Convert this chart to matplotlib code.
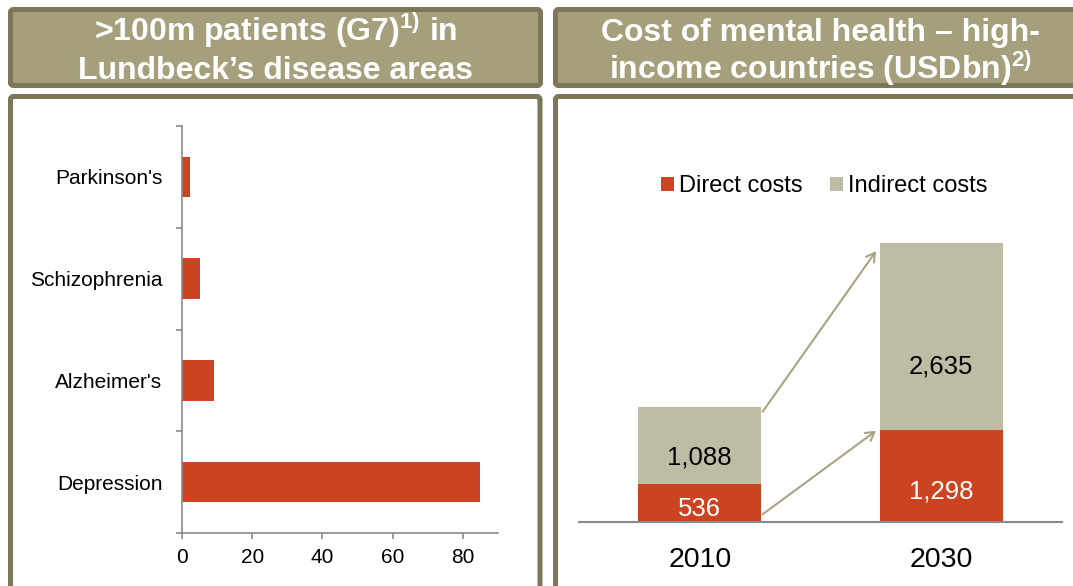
import matplotlib.pyplot as plt
from matplotlib.patches import FancyBboxPatch

plt.rcParams['font.family'] = ['Liberation Sans', 'DejaVu Sans']
plt.rcParams['mathtext.fontset'] = 'custom'
plt.rcParams['mathtext.rm'] = 'Liberation Sans'
plt.rcParams['mathtext.bf'] = 'Liberation Sans:bold'

# left panel: patients (millions, G7)
diseases = ['Depression', "Alzheimer's", 'Schizophrenia', "Parkinson's"]
patients = [85, 9, 5, 2.4]

# right panel: cost of mental health (USDbn)
years = ['2010', '2030']
direct_costs = [536, 1298]
indirect_costs = [1088, 2635]

RED = '#cb4320'
GREY_BAR = '#bfbca5'
HEAD_FILL = '#a59f7c'
HEAD_EDGE = '#7b7758'
ARROW = '#a8a482'
AXIS = '#8a8a8a'

W, H = 1073, 586
fig = plt.figure(figsize=(W / 100, H / 100), dpi=100)


def px(l, t, r, b):
    return [l / W, 1 - b / H, (r - l) / W, (b - t) / H]


# background layer in pixel coordinates
bg = fig.add_axes([0, 0, 1, 1], zorder=-1)
bg.set_xlim(0, W)
bg.set_ylim(H, 0)
bg.axis('off')

# header boxes
for x0, x1 in [(10.5, 540.5), (555.5, 1100)]:
    bg.add_patch(FancyBboxPatch((x0, 9.5), x1 - x0, 76, boxstyle='round,pad=0,rounding_size=3',
                                fc=HEAD_FILL, ec=HEAD_EDGE, lw=3.6))
# panel frames
for x0, x1 in [(10.5, 540), (555.5, 1100)]:
    bg.add_patch(FancyBboxPatch((x0, 96.5), x1 - x0, 520, boxstyle='round,pad=0,rounding_size=3',
                                fc='white', ec=HEAD_EDGE, lw=3.6))

hfont = dict(ha='center', va='baseline', color='white', fontsize=23, fontweight='bold')
bg.text(276, 41, r">100m patients (G7)$^{\mathbf{1)}}$ in", **hfont)
bg.text(276, 79, "Lundbeck\u2019s disease areas", **hfont)
bg.text(820, 41, "Cost of mental health \u2013 high-", **hfont)
bg.text(820, 79, r"income countries (USDbn)$^{\mathbf{2)}}$", **hfont)

# ---- left: horizontal bars
ax1 = fig.add_axes(px(182, 126, 498, 533))
ypos = list(range(len(diseases)))
ax1.barh(ypos, patients, height=0.4, color=RED)
ax1.set_xlim(0, 90)
ax1.set_ylim(-0.5, len(diseases) - 0.5)
ax1.set_xticks([0, 20, 40, 60, 80])
ax1.set_yticks([i - 0.5 for i in range(len(diseases) + 1)])
ax1.set_yticklabels([])
ax1.set_yticks(ypos, minor=True)
ax1.set_yticklabels(diseases, minor=True)
ax1.tick_params(axis='y', which='minor', length=0, pad=14, labelsize=15)
ax1.tick_params(axis='y', which='major', length=4, width=1.2, color=AXIS)
ax1.tick_params(axis='x', length=4, width=1.2, color=AXIS, pad=7, labelsize=15)
for s in ['top', 'right']:
    ax1.spines[s].set_visible(False)
for s in ['left', 'bottom']:
    ax1.spines[s].set_color(AXIS)
    ax1.spines[s].set_linewidth(1.2)

# ---- right: stacked bars
ax2 = fig.add_axes(px(579, 202.5, 1062, 522))
xpos = list(range(len(years)))
bw = 0.51
b1 = ax2.bar(xpos, direct_costs, width=bw, color=RED, label='Direct costs')
b2 = ax2.bar(xpos, indirect_costs, width=bw, bottom=direct_costs, color=GREY_BAR,
             label='Indirect costs')
ax2.set_xlim(-0.5, 1.5)
ax2.set_ylim(0, 4500)
ax2.set_yticks([])
ax2.set_xticks(xpos)
ax2.set_xticklabels(years)
ax2.tick_params(axis='x', length=0, pad=18, labelsize=20.5)
for s in ['top', 'right', 'left']:
    ax2.spines[s].set_visible(False)
ax2.spines['bottom'].set_color(AXIS)
ax2.spines['bottom'].set_linewidth(1.5)

for i in xpos:
    d, ind = direct_costs[i], indirect_costs[i]
    ax2.text(i, d * 0.33, f'{d:,}', ha='center', va='center', color='white', fontsize=18.5)
    ax2.text(i, d + ind * 0.34, f'{ind:,}', ha='center', va='center', color='black', fontsize=18.5)

tot = [d + i for d, i in zip(direct_costs, indirect_costs)]
aprops = dict(arrowstyle='->,head_length=0.6,head_width=0.35', color=ARROW, lw=1.5,
              shrinkA=0, shrinkB=0)
ax2.annotate('', xy=(1 - bw / 2 - 0.015, direct_costs[1] * 0.99),
             xytext=(bw / 2 + 0.005, direct_costs[0] * 0.2), arrowprops=aprops)
ax2.annotate('', xy=(1 - bw / 2 - 0.015, tot[1] * 0.97),
             xytext=(bw / 2 + 0.005, tot[0] * 0.955), arrowprops=aprops)

fig.legend(handles=[b1, b2], loc='center', bbox_to_anchor=(824 / W, 1 - 186 / H),
           ncol=2, frameon=False, fontsize=17, handlelength=0.55, handleheight=0.55,
           handletextpad=0.22, columnspacing=1.15)

fig.savefig('out.png', dpi=100)
